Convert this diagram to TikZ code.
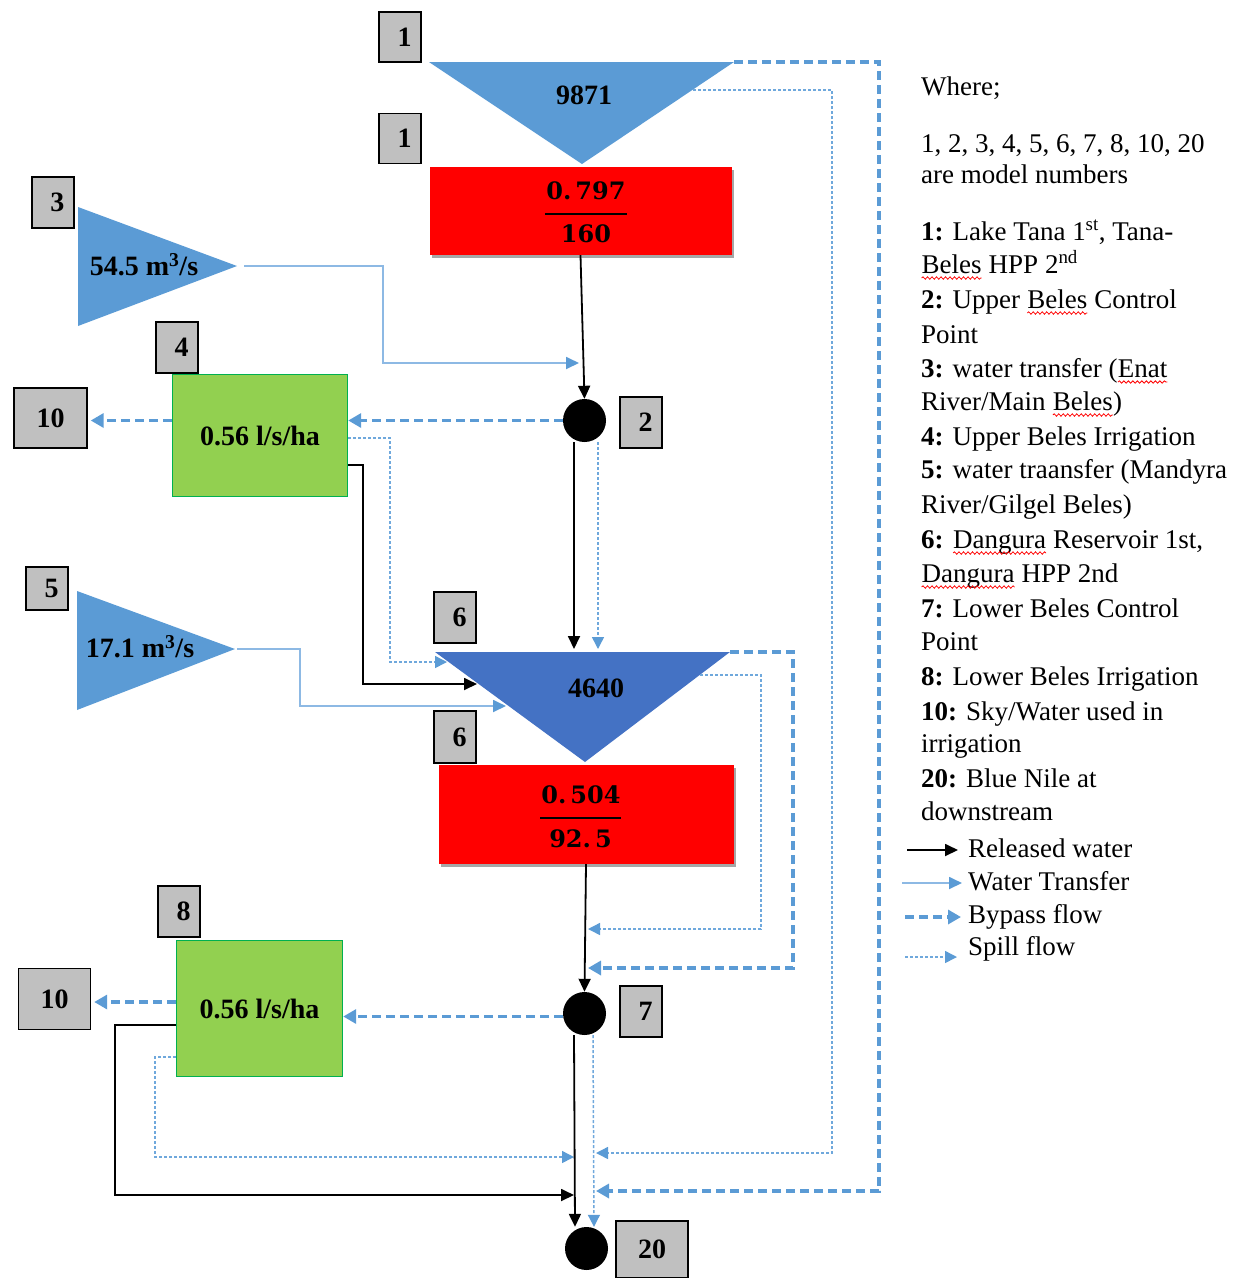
\documentclass[tikz,border=0pt]{standalone}
\usepackage{fontspec}
\setmainfont{Liberation Serif}
\newfontfamily\fracfont{DejaVu Serif}
\usetikzlibrary{arrows.meta,shadows,calc,decorations.pathmorphing}
\definecolor{lblgray}{HTML}{C0C0C0}
\definecolor{triblue}{HTML}{5B9BD5}
\definecolor{resblue}{HTML}{4472C4}
\definecolor{irrgreen}{HTML}{92D050}
\definecolor{irredge}{HTML}{00B050}
\definecolor{flowblue}{HTML}{5B9BD5}
\definecolor{lightflow}{HTML}{8DB9E4}
\definecolor{spillblue}{HTML}{6FA8DC}
\newcommand\sqw[1]{\tikz[baseline=(sqw.base)]{\node[inner sep=0pt,outer sep=0pt,anchor=base](sqw) at (0,0){#1};\draw[red,line width=0.8pt,decorate,decoration={snake,amplitude=1.2pt,segment length=4.5pt}]([yshift=-5pt]sqw.base west)--([yshift=-5pt]sqw.base east);}}
\tikzset{
  lbl/.style={draw=black, line width=1.4pt, fill=lblgray, inner sep=0pt, font=\fontsize{28}{28}\selectfont\bfseries},
  nlbl/.style={lbl, minimum width=42pt, minimum height=50pt, execute at begin node={\hspace*{9pt}}},
  wlbl/.style={lbl, minimum width=72pt, minimum height=60pt},
  hpp/.style={fill=red, inner sep=0pt, drop shadow={shadow xshift=2.5pt, shadow yshift=-2.5pt, opacity=0.35, fill=black}},
  irr/.style={fill=irrgreen, draw=irredge, line width=1.4pt, inner sep=0pt, font=\fontsize{28}{28}\selectfont\bfseries},
  ctrl/.style={circle, fill=black, minimum size=43pt, inner sep=0pt},
  val/.style={font=\fontsize{28}{28}\selectfont\bfseries, inner sep=0pt},
  fracnum/.style={font=\fontsize{24}{24}\selectfont\fracfont\bfseries, inner sep=0pt},
  leg/.style={anchor=base west, inner sep=0pt, font=\fontsize{27}{27}\selectfont},
  released/.style={draw=black, line width=1.8pt, -{Triangle[length=13pt,width=12pt]}},
  transfer/.style={draw=lightflow, line width=1.8pt, -{Triangle[length=13pt,width=12pt,color=flowblue]}},
  bypass/.style={draw=flowblue, line width=3.2pt, dash pattern=on 9pt off 5pt, -{Triangle[length=13pt,width=14pt]}},
  spill/.style={draw=spillblue, line width=1.5pt, dash pattern=on 3pt off 2pt, -{Triangle[length=12pt,width=12pt,color=flowblue]}}
}
\begin{document}
\begin{tikzpicture}[x=1pt,y=-1pt]
\useasboundingbox (0,0) rectangle (1242,1278);

% ---------- triangles ----------
\path[fill=triblue] (429,62) coordinate (t1nw) -- (734,62) coordinate (t1ne) -- (582,164) coordinate (t1s) -- cycle;
\coordinate (t1sp) at (693,90);
\path[fill=triblue] (78,207) -- (78,326) -- (237,266) coordinate (t3tip) -- cycle;
\coordinate (t3s) at (244,266);
\path[fill=triblue] (77,591) -- (77,710) -- (235,649) coordinate (t5tip) -- cycle;
\coordinate (t5s) at (237,649);
\path[fill=resblue] (435,652) coordinate (t6nw) -- (730,652) coordinate (t6ne) -- (585,762) coordinate (t6s) -- cycle;
\coordinate (t6a) at (447,662);
\coordinate (t6b) at (477,684);
\coordinate (t6c) at (506,706);
\coordinate (t6sp) at (700,675);

\node[val] (v1) at (584,95) {9871};
\node[val] (v3) at (144,265) {54.5 m\textsuperscript{3}/s};
\node[val] (v5) at (140,647) {17.1 m\textsuperscript{3}/s};
\node[val] (v6) at (596,688) {4640};

% ---------- HPP boxes ----------
\node[hpp, minimum width=302pt, minimum height=88pt] (r1) at (580.5,211) {};
\node[fracnum] (r1n) at (586,191) {0.\,797};
\node[fracnum] (r1d) at (586,234) {160};
\draw[line width=2pt] (545,214) -- (627,214);
\node[hpp, minimum width=295pt, minimum height=99pt] (r2) at (586,814.5) {};
\node[fracnum] (r2n) at (581,795) {0.\,504};
\node[fracnum] (r2d) at (580.5,839) {92.\,5};
\draw[line width=2pt] (540,818) -- (621,818);

% ---------- irrigation ----------
\node[irr, minimum width=175pt, minimum height=122pt] (g1) at (260,435.5) {0.56 l/s/ha};
\node[irr, minimum width=166pt, minimum height=136pt] (g2) at (259.5,1008.5) {0.56 l/s/ha};

% ---------- control points ----------
\node[ctrl] (c2) at (584.5,420.5) {};
\node[ctrl] (c7) at (584.5,1013.5) {};
\node[ctrl] (c20) at (586.5,1248.5) {};

% ---------- model number labels ----------
\node[nlbl] (L1a) at (400,37) {1};
\node[nlbl] (L1b) at (400,138.5) {1};
\node[nlbl, minimum height=51pt] (L3) at (53,202.5) {3};
\node[nlbl, minimum height=51pt] (L4) at (177,347.5) {4};
\node[nlbl, minimum height=51pt] (L2) at (641,422.5) {2};
\node[nlbl, minimum height=43pt] (L5) at (47,588.5) {5};
\node[nlbl, minimum height=51pt] (L6a) at (455,617.5) {6};
\node[nlbl, minimum height=52pt] (L6b) at (455,737) {6};
\node[nlbl, minimum height=51pt] (L8) at (179,911.5) {8};
\node[nlbl, minimum height=51pt] (L7) at (641,1011.5) {7};
\node[wlbl, minimum width=73pt] (L10a) at (50.5,418) {10};
\node[wlbl, minimum width=72pt, minimum height=61pt] (L10b) at (54.5,999) {10};
\node[wlbl, minimum height=57pt] (L20) at (652,1249.5) {20};

% ---------- free ends ----------
\coordinate (j1) at (579,363);
\coordinate (j7a) at (588,929);
\coordinate (j7b) at (588,968);
\coordinate (j20a) at (574,1195);
\coordinate (j20b) at (574,1157);
\coordinate (j20c) at (596,1153);
\coordinate (j20d) at (596,1191);

% ---------- connectors ----------
\draw[released] (r1.south) -- (c2.north);
\draw[transfer] (t3s) -| (383,363) -- (j1);
\draw[bypass] (c2.west) -- (c2.west -| g1.east);
\draw[bypass, shorten >=3pt] (g1.west |- c2.west) -- (L10a.east |- c2.west);
\draw[spill] ([yshift=-2.5pt]g1.east) -| (390,662) -- (t6a);
\draw[released] ([yshift=-29.5pt]g1.east) -| (363,684) -- (t6b);
\draw[released, shorten >=3pt] ([xshift=-10.5pt]c2.south) -- ([xshift=-10.5pt]c2.south |- t6nw);
\draw[spill, shorten >=3pt] ([xshift=13.5pt]c2.south) -- ([xshift=13.5pt]c2.south |- t6nw);
\draw[transfer] (t5s) -| (300,706) -- (t6c);
\draw[released] (r2.south) -- (c7.north);
\draw[spill] (t6sp) -| (761,929) -- (j7a);
\draw[bypass] (t6ne) -| (793,968) -- (j7b);
\draw[bypass] ([yshift=-3pt]c7.west) -- ([yshift=-3pt]c7.west -| g2.east);
\draw[bypass, shorten >=3pt] ([yshift=6.5pt]g2.west) -- ([yshift=6.5pt]g2.west -| L10b.east);
\draw[released] ([yshift=-16.5pt]g2.west) -| (115,1195) -- (j20a);
\draw[spill] ([yshift=-48.5pt]g2.west) -| (155,1157) -- (j20b);
\draw[released] ([xshift=-10.5pt]c7.south) -- ([xshift=-11.5pt]c20.north);
\draw[spill] ([xshift=8.5pt]c7.south) -- ([xshift=7.5pt]c20.north);
\draw[spill] (t1sp) -| (832,1153) -- (j20c);
\draw[bypass] (t1ne) -| (879,1191) -- (j20d);

% ---------- legend ----------
\node[leg] (w1) at (921,95) {Where;};
\node[leg] (w2) at (921,152) {1, 2, 3, 4, 5, 6, 7, 8, 10, 20};
\node[leg] (w3) at (921,183) {are model numbers};
\node[leg] (w4) at (921,240) {\textbf{1:} Lake Tana 1\textsuperscript{st}, Tana-};
\node[leg] (w5) at (921,273) {\sqw{Beles} HPP 2\textsuperscript{nd}};
\node[leg] (w6) at (921,308) {\textbf{2:} Upper \sqw{Beles} Control};
\node[leg] (w7) at (921,343) {Point};
\node[leg] (w8) at (921,377) {\textbf{3:} water transfer (\sqw{Enat}};
\node[leg] (w9) at (921,410) {River/Main \sqw{Beles})};
\node[leg] (w10) at (921,445) {\textbf{4:} Upper Beles Irrigation};
\node[leg] (w11) at (921,478) {\textbf{5:} water traansfer (Mandyra};
\node[leg] (w12) at (921,513) {River/Gilgel Beles)};
\node[leg] (w13) at (921,548) {\textbf{6:} \sqw{Dangura} Reservoir 1st,};
\node[leg] (w14) at (921,582) {\sqw{Dangura} HPP 2nd};
\node[leg] (w15) at (921,617) {\textbf{7:} Lower Beles Control};
\node[leg] (w16) at (921,650) {Point};
\node[leg] (w17) at (921,685) {\textbf{8:} Lower Beles Irrigation};
\node[leg] (w18) at (921,720) {\textbf{10:} Sky/Water used in};
\node[leg] (w19) at (921,752) {irrigation};
\node[leg] (w20) at (921,787) {\textbf{20:} Blue Nile at};
\node[leg] (w21) at (921,820) {downstream};

\coordinate (la1) at (907,850); \coordinate (la2) at (958,850);
\coordinate (lb1) at (902,883); \coordinate (lb2) at (962,883);
\coordinate (lc1) at (905,917); \coordinate (lc2) at (961,917);
\coordinate (ld1) at (905,957); \coordinate (ld2) at (957,957);
\draw[released] (la1) -- (la2);
\draw[transfer] (lb1) -- (lb2);
\draw[bypass] (lc1) -- (lc2);
\draw[spill] (ld1) -- (ld2);
\node[leg] (k1) at (968,857) {Released water};
\node[leg] (k2) at (968,890) {Water Transfer};
\node[leg] (k3) at (968,923) {Bypass flow};
\node[leg] (k4) at (968,955) {Spill flow};
\end{tikzpicture}
\end{document}
